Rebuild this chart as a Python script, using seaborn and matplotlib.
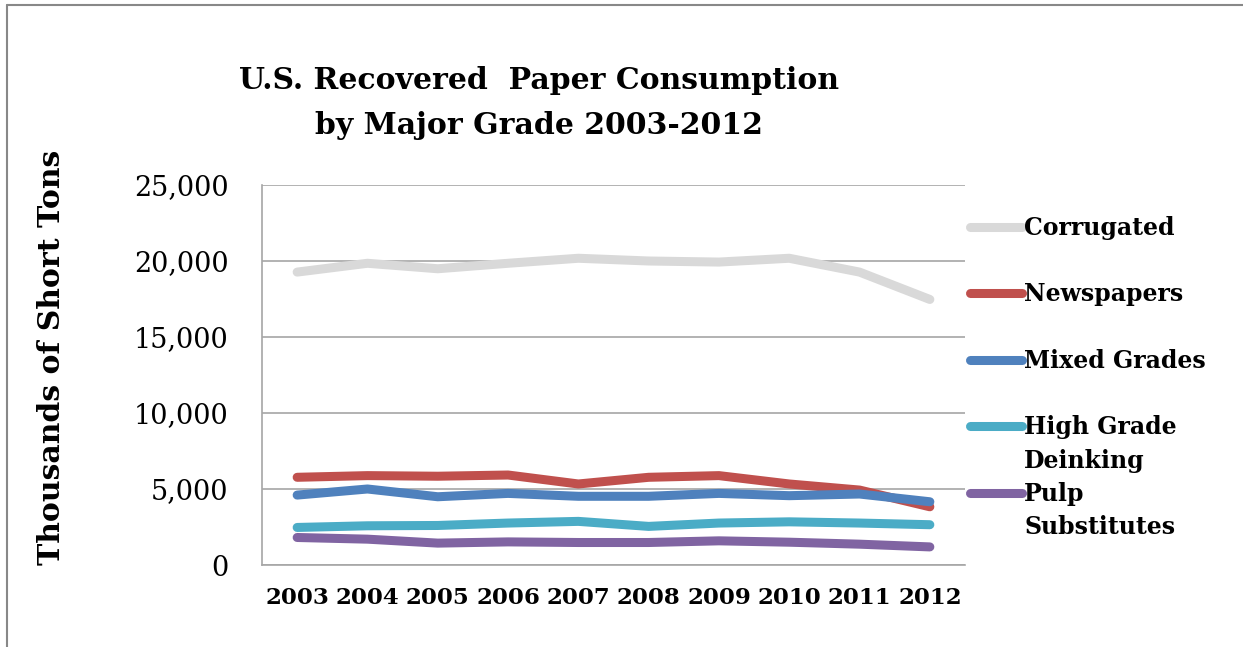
import numpy as np
import pandas as pd
import matplotlib
matplotlib.use('Agg')
import matplotlib.pyplot as plt
import seaborn as sns
from matplotlib.lines import Line2D

years = [2003, 2004, 2005, 2006, 2007, 2008, 2009, 2010, 2011, 2012]
corrugated = [19270, 19850, 19490, 19850, 20180, 20000, 19930, 20180, 19270, 17470]
newspapers = [5770, 5880, 5840, 5920, 5330, 5770, 5880, 5330, 4930, 3830]
mixed_grades = [4600, 5000, 4490, 4710, 4520, 4520, 4710, 4560, 4670, 4160]
high_grade = [2470, 2580, 2600, 2760, 2870, 2540, 2760, 2840, 2760, 2650]
pulp_subs = [1810, 1700, 1440, 1520, 1480, 1480, 1590, 1500, 1370, 1190]

grades = ['Corrugated', 'Newspapers', 'Mixed Grades', 'High Grade\nDeinking', 'Pulp\nSubstitutes']
colors = ['#d9d9d9', '#c0504d', '#4f81bd', '#4bacc6', '#8064a2']

df = pd.DataFrame({'year': years,
                   grades[0]: corrugated,
                   grades[1]: newspapers,
                   grades[2]: mixed_grades,
                   grades[3]: high_grade,
                   grades[4]: pulp_subs})
df = df.melt(id_vars='year', var_name='grade', value_name='tons')

sns.set_style('white')
plt.rcParams['font.family'] = ['DejaVu Serif']
plt.rcParams['text.color'] = 'black'
plt.rcParams['xtick.color'] = 'black'
plt.rcParams['ytick.color'] = 'black'
plt.rcParams['axes.labelcolor'] = 'black'

fig = plt.figure(figsize=(12.43, 6.47), dpi=100)
ax = fig.add_axes([262/1243, 82/647, 703/1243, 380/647])

sns.lineplot(data=df, x='year', y='tons', hue='grade', hue_order=grades,
             palette=colors, linewidth=6.5, legend=False, ax=ax)
lines = ax.get_lines()[:5]
for ln in lines:
    ln.set_solid_capstyle('round')
    ln.set_solid_joinstyle('round')

ax.set_xlim(2002.5, 2012.5)
ax.set_ylim(0, 25000)
ax.set_xticks(years)
ax.set_xticklabels([str(y) for y in years], fontsize=16.5, fontweight='bold')
ax.set_yticks(np.arange(0, 25001, 5000))
ax.set_yticklabels([f'{v:,}' for v in range(0, 25001, 5000)], fontsize=19.5)
ax.tick_params(axis='both', length=0)
ax.tick_params(axis='y', pad=24)
ax.tick_params(axis='x', pad=16)
ax.yaxis.grid(True, color='#a6a6a6', linewidth=1.2)
ax.set_axisbelow(True)
for side in ['top', 'right']:
    ax.spines[side].set_visible(False)
for side in ['left', 'bottom']:
    ax.spines[side].set_color('#a6a6a6')
    ax.spines[side].set_linewidth(1.2)
ax.set_xlabel('')
ax.set_ylabel('Thousands of Short Tons', fontsize=21.5, fontweight='bold', labelpad=49)
ax.yaxis.label.set_y(0.547)

# legend: first line of each label next to the handle, second line underneath (Excel style)
first_lines = [g.split('\n')[0] for g in grades]
leg = ax.legend(lines, first_lines, loc='upper left', bbox_to_anchor=(958/1243, 1 - 204/647),
                bbox_transform=fig.transFigure, frameon=False, borderpad=0,
                handlelength=2.2, handletextpad=0.1, labelspacing=1.8,
                prop={'size': 17, 'weight': 'bold'})
for g, txt in zip(grades, leg.get_texts()):
    if '\n' in g:
        ax.annotate(g.split('\n')[1], xy=(0, 0.5), xycoords=txt,
                    xytext=(0, -24), textcoords='offset points',
                    ha='left', va='center', fontsize=17, fontweight='bold',
                    zorder=10, annotation_clip=False)

fig.text(539/1243, 1 - 103/647, 'U.S. Recovered  Paper Consumption\nby Major Grade 2003-2012',
         ha='center', va='center', fontsize=21.5, fontweight='bold', linespacing=1.7)

fig.add_artist(Line2D([7/1243, 7/1243], [0, 1 - 5/647], color='#888888', linewidth=1.5,
                      transform=fig.transFigure))
fig.add_artist(Line2D([7/1243, 1], [1 - 5/647, 1 - 5/647], color='#888888', linewidth=1.5,
                      transform=fig.transFigure))

fig.savefig('out.png', dpi=100)
